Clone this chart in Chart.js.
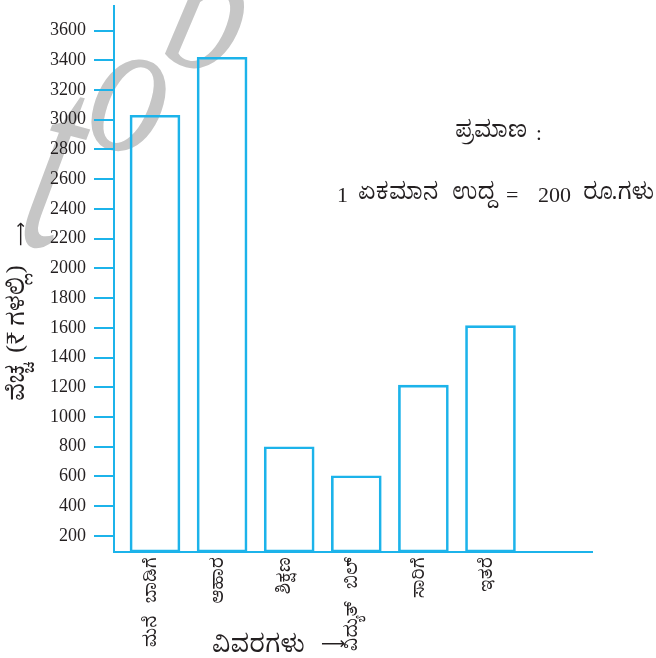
<!DOCTYPE html>
<html>
<head>
<meta charset="utf-8">
<script src="https://cdn.jsdelivr.net/npm/chart.js@4"></script>
<style>
  html, body { margin: 0; padding: 0; background: #ffffff; }
  #wrap { width: 656px; height: 658px; position: relative; }
</style>
</head>
<body>
<div id="wrap"><canvas id="chart"></canvas></div>
<script>
// Monthly family expenses, in rupees
const categories = ['ಮನೆ   ಬಾಡಿಗೆ', 'ಆಹಾರ', 'ಶಿಕ್ಷಣ', 'ವಿದ್ಯುತ್   ಬಿಲ್', 'ಸಾರಿಗೆ', 'ಇತರೆ'];
const expenses = [3030, 3420, 800, 605, 1215, 1615];
const yTickValues = [200, 400, 600, 800, 1000, 1200, 1400, 1600, 1800, 2000,
                     2200, 2400, 2600, 2800, 3000, 3200, 3400, 3600];

const yTitle = 'ವೆಚ್ಚ  (₹ ಗಳಲ್ಲಿ)';
const xTitle = 'ವಿವರಗಳು';
const arrow = '⟶';
const scaleHeading = 'ಪ್ರಮಾಣ';
const scaleWords = ['1', 'ಏಕಮಾನ', 'ಉದ್ದ', '=', '200', 'ರೂ.ಗಳು'];

const CYAN = '#1cb3ea';
const INK = '#231f20';
const KN = '"Noto Serif Kannada", "Noto Sans Kannada", "Lohit Kannada", "Liberation Serif", serif';
const SERIF = '"Liberation Serif", "Noto Serif Kannada", serif';
const ARROW_FONT = '"DejaVu Sans", sans-serif';

// grey italic watermark letters behind the plot
function drawWatermark(ctx) {
  ctx.save();
  ctx.fillStyle = '#c6c6c6';
  ctx.font = 'italic 190px "Liberation Serif", serif';
  ctx.textBaseline = 'alphabetic';
  [['t', 14, 240, 1.45], ['o', 80, 140, 1.05], ['b', 158, 58, 1]].forEach(([ch, x, y, sy]) => {
    ctx.save();
    ctx.translate(x, y);
    ctx.rotate(0.26);
    ctx.scale(0.8, sy);
    ctx.fillText(ch, 0, 0);
    ctx.restore();
  });
  ctx.restore();
}

const decorations = {
  id: 'decorations',
  beforeDraw(chart) {
    drawWatermark(chart.ctx);
  },
  afterDraw(chart) {
    const ctx = chart.ctx;
    ctx.save();
    ctx.fillStyle = INK;

    // vertical axis title and its arrow
    ctx.save();
    ctx.translate(23, 0);
    ctx.rotate(-Math.PI / 2);
    ctx.textAlign = 'center';
    ctx.textBaseline = 'middle';
    ctx.font = '24px ' + KN;
    ctx.fillText(yTitle, -333, 0);
    ctx.font = '17px ' + ARROW_FONT;
    ctx.fillText(arrow, -234, -1);
    ctx.restore();

    // horizontal axis title with arrow
    ctx.font = '25px ' + KN;
    ctx.textAlign = 'left';
    ctx.textBaseline = 'alphabetic';
    ctx.fillText(xTitle, 212, 652);
    ctx.textBaseline = 'middle';
    ctx.font = '17px ' + ARROW_FONT;
    ctx.fillText(arrow, 321, 645);

    // scale note
    ctx.font = '23px ' + KN;
    ctx.fillText(scaleHeading, 455, 136);
    ctx.font = '21px ' + SERIF;
    ctx.fillText(':', 536, 134);

    const xs = [337, 358, 452, 506, 538, 583];
    scaleWords.forEach((w, i) => {
      const isDigit = /^[0-9=]+$/.test(w);
      ctx.font = isDigit ? '22px ' + SERIF : '23px ' + KN;
      ctx.fillText(w, xs[i], isDigit ? 196 : 198);
    });
    ctx.restore();
  }
};

function noPad(scale) {
  scale.paddingTop = 0;
  scale.paddingBottom = 0;
  scale.paddingLeft = 0;
  scale.paddingRight = 0;
}

new Chart(document.getElementById('chart'), {
  type: 'bar',
  data: {
    datasets: [{
      data: categories.map((c, i) => ({ x: i, y: expenses[i] })),
      backgroundColor: 'rgba(255,255,255,0)',
      borderColor: CYAN,
      borderWidth: 2,
      borderSkipped: false,
      barThickness: 50,
      base: 92,
      clip: false
    }]
  },
  options: {
    responsive: true,
    maintainAspectRatio: false,
    animation: false,
    layout: { padding: { top: 6, right: 64, bottom: 0, left: 0 } },
    plugins: { legend: { display: false }, tooltip: { enabled: false } },
    scales: {
      x: {
        type: 'linear',
        offset: false,
        min: -0.611,
        max: 6.513,
        afterBuildTicks(scale) {
          scale.ticks = categories.map((c, i) => ({ value: i }));
        },
        afterFit(scale) { scale.height = 106; noPad(scale); },
        grid: { display: false, drawTicks: false },
        border: { display: true, color: CYAN, width: 2 },
        ticks: {
          autoSkip: false,
          minRotation: 90,
          maxRotation: 90,
          padding: 5,
          color: INK,
          font: { family: KN, size: 18 },
          callback: (v) => categories[v] ?? ''
        }
      },
      y: {
        type: 'linear',
        min: 92,
        max: 3765,
        afterBuildTicks(scale) {
          scale.ticks = yTickValues.map(v => ({ value: v }));
        },
        afterFit(scale) { scale.width = 114; noPad(scale); },
        grid: {
          drawOnChartArea: false,
          drawTicks: true,
          tickLength: 20,
          color: CYAN,
          lineWidth: 2
        },
        border: { display: true, color: CYAN, width: 2 },
        ticks: {
          padding: 8,
          color: INK,
          font: { family: SERIF, size: 18 },
          callback: (v) => String(v)
        }
      }
    }
  },
  plugins: [decorations]
});
</script>
</body>
</html>
